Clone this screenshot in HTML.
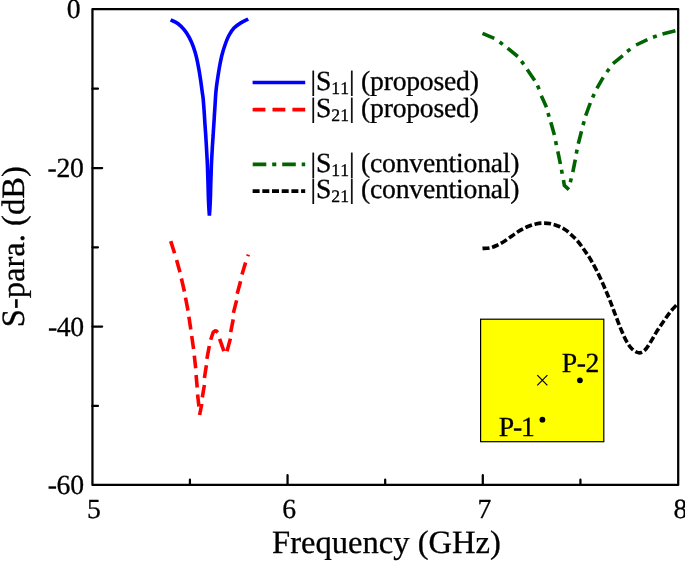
<!DOCTYPE html>
<html lang="en">
<head>
<meta charset="utf-8">
<title>S-parameters versus frequency</title>
<style>
html,body{margin:0;padding:0;background:#fff;}
body{width:685px;height:561px;overflow:hidden;}
svg{display:block;font-family:"Liberation Serif","Times New Roman",serif;fill:#000;font-kerning:none;text-rendering:geometricPrecision;will-change:transform;transform:translateZ(0);}
text{stroke:#000;stroke-width:.3;stroke-linejoin:round;}
.ax{stroke:#000;stroke-width:2.25;fill:none;}
.cv{fill:none;stroke-width:3.6;stroke-linejoin:miter;stroke-linecap:butt;}
</style>
</head>
<body>
<svg width="685" height="561" viewBox="0 0 685 561">
<rect width="685" height="561" fill="#fff"/>

<!-- inset: patch sketch -->
<rect x="480.6" y="319.2" width="123.2" height="122.5" fill="#ffff00" stroke="#000" stroke-width="1.2"/>
<path d="M537.3,375.2L547.4,385.3M547.4,375.2L537.3,385.3" stroke="#000" stroke-width="1.2" fill="none"/>
<circle cx="579.9" cy="380.3" r="2.9"/>
<circle cx="542.4" cy="419.7" r="2.9"/>
<text x="561.8" y="371.6" font-size="27.7" letter-spacing="-0.5">P-2</text>
<text x="498.7" y="435.6" font-size="27.7" letter-spacing="-1.2">P-1</text>

<!-- curves -->
<path class="cv" stroke="#0000ff" d="M170.6,19.9C171.8,20.5 175.5,21.8 177.8,23.5C180.1,25.2 182.4,27.6 184.3,29.9C186.2,32.2 187.7,34.6 189.2,37.4C190.7,40.2 192.1,43.3 193.3,46.7C194.5,50.1 195.7,54.0 196.6,57.8C197.5,61.6 198.2,65.6 198.9,69.4C199.6,73.2 200.1,76.9 200.7,80.6C201.2,84.3 201.8,88.7 202.2,91.8C202.6,94.9 202.9,95.6 203.2,99.0C203.5,102.4 203.9,107.7 204.2,112.0C204.5,116.3 204.7,120.8 205.0,124.8C205.3,128.8 205.5,132.1 205.8,136.0C206.0,139.9 206.2,143.2 206.5,148.0C206.7,152.8 207.2,159.7 207.4,165.0C207.6,170.3 207.7,175.0 207.9,180.0C208.1,185.0 208.2,190.5 208.3,195.0C208.5,199.5 208.6,203.6 208.8,207.0C209.0,210.4 209.3,214.2 209.4,215.7C209.5,214.2 209.8,210.4 210.0,207.0C210.2,203.6 210.3,199.5 210.5,195.0C210.6,190.5 210.7,185.0 210.9,180.0C211.1,175.0 211.2,170.3 211.4,165.0C211.6,159.7 212.1,152.8 212.3,148.0C212.6,143.2 212.8,139.9 213.1,136.0C213.3,132.1 213.5,128.8 213.8,124.8C214.1,120.8 214.3,116.3 214.6,112.0C214.9,107.7 215.2,102.5 215.4,99.0C215.6,95.5 215.7,94.2 216.0,91.0C216.3,87.8 216.8,83.8 217.4,80.0C218.0,76.2 218.6,72.0 219.3,68.0C220.0,64.0 220.8,59.8 221.7,56.0C222.6,52.2 223.8,48.4 225.0,45.0C226.2,41.6 227.4,38.3 228.9,35.5C230.4,32.7 232.0,30.2 234.0,28.1C236.0,26.0 238.4,24.4 240.8,22.9C243.2,21.4 247.0,19.6 248.2,19.0"/>
<path class="cv" stroke="#ff0000" style="stroke-linejoin:bevel" d="M170.7,241.1L174.6,253.2M176.6,259.9L180,272.2M181.4,278.5L184.4,291.5M185.5,297.7L188,310.6M188.9,316.7L190.8,329.6M191.7,336.1L193.6,348.9M194.3,355.6L195.7,368.2M196.1,375L197.2,387.5M197.6,394.5L198.9,406.5M199.6,415L201.8,404M202.3,397.4L204.4,385M204.4,378L206.4,365.2M206.9,358.8L209.3,346M210.7,339.8L213.2,332.3L215.8,330.4L217.8,332.4M219.6,338.9L223.9,351.2M227,351.2L230.4,338.6M230.7,332.1L233.2,319.3M233.4,312.9L236.6,300.4M237.2,293.8L240.6,281.3M242,274.6L245.6,262.4M247.75,256.1L248.35,254.6"/>
<path class="cv" stroke="#006400" d="M482.5,33.4L494.3,38.4M507.6,48.2L517.8,56.5M527.2,69.6L534.7,80.6M541.3,95.8L546.5,107.3M550.8,122.3L554.4,135.1M557.8,151.3L560.4,164M572.8,172.2L575.3,159.7M578.3,143.7L581.5,131.2M585.7,115.6L590.3,103M596.9,88.3L603.2,77.4M613,63.7L622.8,55.7M636.1,45L647.4,39.6M662.5,33.9L675.4,30.7M563.5,180L564.3,185.3L568.9,189.6M499.6,42.0L502.8,44.4M521.4,61.2L523.8,64.4M537.5,85.6L539.1,89.2M548.0,112.9L549.1,116.7M555.6,141.1L556.4,145.1M561.5,169.8L562.2,173.8M570.3,182.2L571.3,178.4M576.3,153.7L577.1,149.7M583.0,125.1L584.2,121.3M592.6,97.6L594.2,94.0M606.8,72.0L609.2,68.8M627.1,51.5L630.3,49.1M653.0,37.3L656.8,35.9"/>
<path class="cv" stroke="#000" stroke-dasharray="7 2.7" d="M482.5,248.4C483.7,248.3 487.3,248.5 489.7,248.0C492.1,247.5 494.2,246.6 496.6,245.5C499.1,244.4 501.8,242.8 504.4,241.2C507.0,239.6 509.7,237.5 512.3,235.7C514.9,233.9 517.5,231.9 520.1,230.4C522.7,228.9 525.3,227.6 527.9,226.5C530.5,225.4 533.2,224.5 535.8,223.9C538.4,223.3 541.0,223.1 543.6,223.1C546.2,223.1 548.9,223.3 551.5,223.9C554.1,224.5 556.8,225.4 559.3,226.5C561.8,227.6 564.0,228.8 566.2,230.4C568.4,232.0 570.7,234.3 572.5,236.0C574.3,237.7 575.3,238.3 577.2,240.6C579.1,242.8 581.7,246.3 583.9,249.5C586.1,252.7 588.4,255.8 590.6,259.5C592.8,263.2 595.1,267.3 597.3,271.8C599.5,276.3 602.0,281.7 604.0,286.3C606.0,290.9 607.8,295.0 609.6,299.6C611.5,304.2 613.2,309.3 615.1,314.1C617.0,318.9 618.8,324.1 620.7,328.6C622.6,333.1 624.4,337.5 626.3,340.9C628.1,344.2 629.7,346.7 631.8,348.7C633.9,350.7 636.5,352.6 638.7,352.8C640.9,353.1 642.9,351.9 644.8,350.2C646.7,348.5 648.1,345.9 650.1,342.8C652.1,339.7 654.6,335.0 656.8,331.4C659.0,327.8 661.3,324.6 663.5,321.4C665.7,318.2 668.0,314.8 670.2,312.0C672.4,309.2 675.7,305.9 676.8,304.7"/>

<!-- frame and ticks -->
<rect class="ax" style="stroke-linejoin:round" x="92.45" y="9.1" width="585.75" height="475.80"/>
<path class="ax" style="stroke-linecap:round" d="M92.45,88.70h5.5M92.45,168.00h9.7M92.45,247.30h5.5M92.45,326.60h9.7M92.45,405.90h5.5M189.92,484.9v-5.2M287.55,484.9v-9.7M385.18,484.9v-5.2M482.80,484.9v-9.7M580.43,484.9v-5.2"/>

<!-- tick labels -->
<g font-size="27.7" text-anchor="end" letter-spacing="-0.3">
<text x="80.3" y="18.3">0</text>
<text x="83.6" y="176.9">-20</text>
<text x="83.9" y="335.5">-40</text>
<text x="83.7" y="494.1">-60</text>
</g>
<g font-size="27.7" text-anchor="middle">
<text x="94.0" y="518.3">5</text>
<text x="289.2" y="518.3">6</text>
<text x="484.4" y="518.3">7</text>
<text x="680.5" y="518.3">8</text>
</g>

<!-- axis titles -->
<text x="386.5" y="553" font-size="32.6" text-anchor="middle">Frequency (GHz)</text>
<text transform="translate(24.4,246.7) rotate(-90)" font-size="32.6" text-anchor="middle">S-para. (dB)</text>

<!-- legend -->
<path class="cv" stroke="#0000ff" d="M252.6,82.55H305.2"/>
<path class="cv" stroke="#ff0000" stroke-dasharray="12.8 7.1" d="M252.6,109.65H305.2"/>
<path class="cv" stroke="#006400" stroke-dasharray="13.6 5.9 4.1 5.9" d="M252.7,164.4H305.2"/>
<path class="cv" stroke="#000" stroke-dasharray="7 2.7" d="M252.6,191.15H305.2"/>
<text x="310.4" y="89.7" font-size="27.7">|S<tspan font-size="17.7" dy="4">11</tspan><tspan dy="-4" letter-spacing="-0.23">| (proposed)</tspan></text>
<text x="310.4" y="116.8" font-size="27.7">|S<tspan font-size="17.7" dy="4">21</tspan><tspan dy="-4" letter-spacing="-0.23">| (proposed)</tspan></text>
<text x="310.4" y="171.5" font-size="27.7">|S<tspan font-size="17.7" dy="4">11</tspan><tspan dy="-4" letter-spacing="-0.23">| (conventional)</tspan></text>
<text x="310.4" y="198.3" font-size="27.7">|S<tspan font-size="17.7" dy="4">21</tspan><tspan dy="-4" letter-spacing="-0.23">| (conventional)</tspan></text>
</svg>
</body>
</html>
